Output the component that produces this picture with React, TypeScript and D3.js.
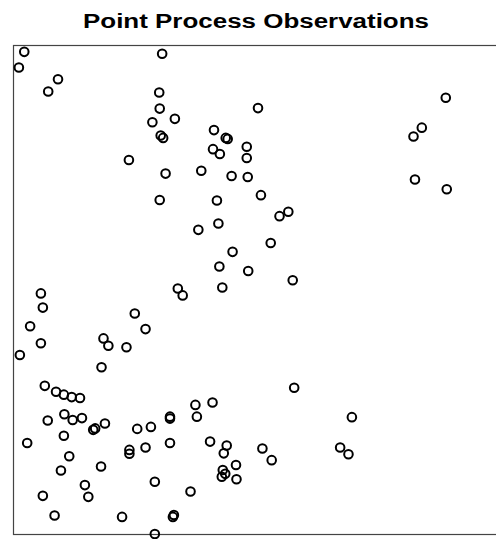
import React from "react";
import * as d3 from "d3";

// Observed event locations on the unit window (scaled to 0–100)
const xs: number[] = [
  2.2, 30.4, 1.1, 9.1, 7.1, 29.8, 29.9, 28.4, 33.0, 30.1,
  30.6, 41.0, 43.4, 43.8, 40.8, 42.2, 47.7, 47.7, 23.6, 31.1,
  38.4, 44.6, 47.9, 29.9, 41.6, 50.0, 88.4, 83.5, 81.8, 50.6,
  82.1, 88.6, 56.2, 54.4, 37.8, 41.9, 52.6, 44.8, 42.1, 48.0,
  57.1, 33.6, 34.6, 42.7, 5.6, 6.0, 3.4, 5.6, 1.3, 24.8,
  27.0, 18.4, 19.4, 23.1, 18.0, 6.4, 8.7, 10.3, 11.9, 13.6,
  7.0, 10.4, 12.1, 14.0, 16.3, 16.7, 18.7, 2.8, 10.3, 11.4,
  9.7, 17.9, 14.6, 15.3, 6.0, 8.4, 22.2, 23.7, 23.7, 25.3,
  28.1, 27.0, 32.0, 32.0, 32.0, 28.9, 32.6, 32.8, 28.9, 37.2,
  37.5, 40.7, 36.2, 40.2, 43.6, 43.0, 45.5, 42.8, 43.3, 42.6,
  45.6, 57.4, 69.2, 50.9, 52.8, 66.8, 68.5,
];
const ys: number[] = [
  98.7, 98.3, 95.5, 93.1, 90.6, 90.4, 87.1, 84.3, 85.0, 81.6,
  81.1, 82.7, 81.1, 80.9, 78.8, 77.8, 79.3, 77.0, 76.6, 73.8,
  74.4, 73.3, 73.1, 68.4, 68.3, 87.2, 89.3, 83.2, 81.4, 69.4,
  72.6, 70.6, 66.0, 65.1, 62.3, 63.6, 59.6, 57.8, 54.8, 53.9,
  52.0, 50.3, 48.9, 50.5, 49.3, 46.4, 42.6, 39.1, 36.7, 45.2,
  42.0, 40.1, 38.6, 38.3, 34.2, 30.4, 29.2, 28.6, 28.1, 27.9,
  23.3, 24.6, 23.4, 23.8, 21.4, 21.7, 22.7, 18.7, 20.2, 16.0,
  13.1, 13.9, 10.1, 7.7, 7.9, 3.9, 3.6, 17.3, 16.5, 21.6,
  22.0, 17.8, 24.1, 23.7, 18.7, 10.8, 3.6, 4.0, 0.1, 26.5,
  24.1, 27.0, 8.8, 19.0, 18.2, 16.6, 14.2, 13.2, 12.4, 11.8,
  11.3, 30.0, 24.0, 17.6, 15.2, 17.8, 16.4,
];

const title = "Point Process Observations";

const W = 496;
const H = 539;
const margin = { left: 13.5, top: 45.5 };
const side = 489;

export default function App() {
  const x = d3.scaleLinear().domain([0, 100]).range([margin.left, margin.left + side]);
  const y = d3.scaleLinear().domain([0, 100]).range([margin.top + side, margin.top]);
  const pts = d3.zip(xs, ys);

  return (
    <svg
      width={W}
      height={H}
      style={{ position: "absolute", left: 0, top: 0, background: "#fff" }}
    >
      <rect x={0} y={0} width={W} height={H} fill="#fff" />
      <text
        x={256}
        y={28}
        textAnchor="middle"
        fontFamily="'Liberation Sans', Arial, sans-serif"
        fontWeight="bold"
        fontSize={20}
        textLength={346}
        lengthAdjust="spacingAndGlyphs"
        fill="#000"
      >
        {title}
      </text>
      <rect
        x={margin.left}
        y={margin.top}
        width={side}
        height={side}
        fill="none"
        stroke="#444"
        strokeWidth={1.2}
      />
      <g fill="none" stroke="#000" strokeWidth={2}>
        {pts.map(([px, py], i) => (
          <circle key={i} cx={x(px)} cy={y(py)} r={4.3} />
        ))}
      </g>
    </svg>
  );
}
